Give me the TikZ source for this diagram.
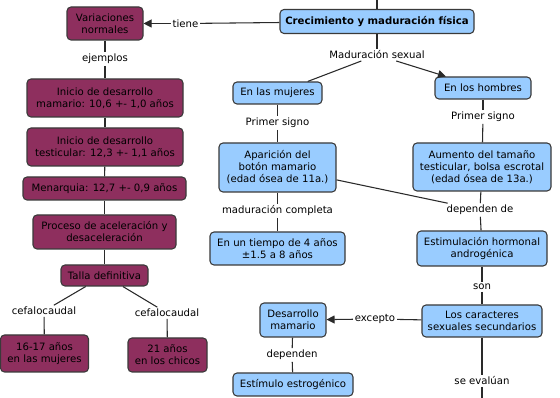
\documentclass[tikz,border=0pt]{standalone}
\usepackage{fontspec}
\setmainfont{DejaVu Sans}
\usetikzlibrary{arrows.meta}
\definecolor{maroon}{HTML}{8E2F5E}
\definecolor{lblue}{HTML}{99CCFF}
\definecolor{bord}{HTML}{3A3A3A}
\definecolor{lin}{HTML}{2A2A2A}
\begin{document}
\begin{tikzpicture}[x=0.75pt,y=-0.75pt,
  every node/.style={font=\fontsize{7.6}{9}\selectfont, align=center},
  box/.style={draw=bord, line width=0.8pt, rounded corners=3pt, inner sep=1pt},
  mbox/.style={box, fill=maroon, text=black},
  bbox/.style={box, fill=lblue, text=black},
  lbl/.style={inner sep=1.2pt, fill=white, text=black},
  conn/.style={draw=lin, line width=0.8pt},
  arr/.style={conn, -{Triangle[length=6pt,width=6pt]}}
]
\useasboundingbox (0,0) rectangle (560,398);
\fill[white] (0,0) rectangle (560,398);

% nodes
\node[bbox, minimum width=145.5pt, minimum height=18pt, font=\fontsize{7.6}{9}\selectfont\bfseries] (crec) at (377,21.5) {Crecimiento y maduración física};
\node[mbox, minimum width=57pt, minimum height=24.75pt] (var) at (105,23.5) {Variaciones\\normales};
\node[mbox, minimum width=117pt, minimum height=28.5pt] (ini1) at (105,98) {Inicio de desarrollo\\mamario: 10,6 +- 1,0 años};
\node[mbox, minimum width=117pt, minimum height=28.5pt] (ini2) at (105,147) {Inicio de desarrollo\\testicular: 12,3 +- 1,1 años};
\node[mbox, minimum width=122.25pt, minimum height=17.25pt] (men) at (104.5,188.5) {Menarquia: 12,7 +- 0,9 años};
\node[mbox, minimum width=107.25pt, minimum height=25.5pt] (proc) at (104.5,232) {Proceso de aceleración y\\desaceleración};
\node[mbox, minimum width=65.25pt, minimum height=15.75pt] (talla) at (104.5,275.5) {Talla definitiva};
\node[mbox, minimum width=66pt, minimum height=27.75pt] (m1617) at (44.5,353.5) {16-17 años\\en las mujeres};
\node[mbox, minimum width=59.25pt, minimum height=25.5pt] (c21) at (167.5,355) {21 años\\en los chicos};

\node[bbox, minimum width=66.75pt, minimum height=16.5pt] (muj) at (277.5,93) {En las mujeres};
\node[bbox, minimum width=72pt, minimum height=16.5pt] (hom) at (483,88) {En los hombres};
\node[bbox, minimum width=87.75pt, minimum height=36.75pt] (apar) at (277.5,167.5) {Aparición del\\botón mamario\\(edad ósea de 11a.)};
\node[bbox, minimum width=103.5pt, minimum height=36pt] (aum) at (482,167) {Aumento del tamaño\\testicular, bolsa escrotal\\(edad ósea de 13a.)};
\node[bbox, minimum width=101.25pt, minimum height=24.75pt] (tiempo) at (277.5,248.5) {En un tiempo de 4 años\\±1.5 a 8 años};
\node[bbox, minimum width=97.5pt, minimum height=26.25pt] (estim) at (482,248.5) {Estimulación hormonal\\androgénica};
\node[bbox, minimum width=90pt, minimum height=24pt] (carac) at (482,321) {Los caracteres\\sexuales secundarios};
\node[bbox, minimum width=49.5pt, minimum height=25.5pt] (desa) at (293,320) {Desarrollo\\mamario};
\node[bbox, minimum width=90pt, minimum height=17.25pt] (estro) at (293,384.5) {Estímulo estrogénico};

% labels
\node[lbl] (tiene) at (185.5,23.5) {tiene};
\node[lbl] (ejem) at (105,59) {ejemplos};
\node[lbl] (mads) at (377,55) {Maduración sexual};
\node[lbl] (pl) at (277.5,123) {Primer signo};
\node[lbl] (pr) at (483,117) {Primer signo};
\node[lbl] (madc) at (277.5,211) {maduración completa};
\node[lbl] (depde) at (480,210) {dependen de};
\node[lbl] (son) at (482,287) {son};
\node[lbl] (exc) at (375,319) {excepto};
\node[lbl] (dep) at (292,355) {dependen};
\node[lbl] (seev) at (482,381) {se evalúan};
\node[lbl] (cefl) at (44,311) {cefalocaudal};
\node[lbl] (cefr) at (167,313) {cefalocaudal};

\coordinate (topend) at (377,0);
\coordinate (botend) at (482,398);

% connectors
\draw[conn] (crec) -- (topend);
\draw[conn] (crec) -- (tiene);
\draw[arr] (tiene) -- (var);
\draw[conn] (var) -- (ejem) -- (ini1);
\draw[conn] (ini1) -- (ini2);
\draw[conn] (ini2) -- (men);
\draw[conn] (men) -- (proc);
\draw[conn] (proc) -- (talla);
\draw[conn] (talla) -- (cefl);
\draw[conn] (cefl) -- (m1617);
\draw[conn] (talla) -- (cefr);
\draw[conn] (cefr) -- (c21);

\draw[conn] (crec) -- (mads);
\draw[conn] (mads) -- (muj);
\draw[arr] (mads) -- (hom);
\draw[conn] (muj) -- (pl);
\draw[conn] (pl) -- (apar);
\draw[conn] (hom) -- (pr);
\draw[conn] (pr) -- (aum);
\draw[conn] (apar) -- (madc);
\draw[conn] (madc) -- (tiempo);
\draw[conn] (apar) -- (depde);
\draw[conn] (aum) -- (depde);
\draw[conn] (depde) -- (estim);
\draw[conn] (estim) -- (son);
\draw[conn] (son) -- (carac);
\draw[conn] (carac) -- (exc);
\draw[arr] (exc) -- (desa);
\draw[conn] (desa) -- (dep);
\draw[conn] (dep) -- (estro);
\draw[conn] (carac) -- (seev);
\draw[conn] (seev) -- (botend);
\end{tikzpicture}
\end{document}
